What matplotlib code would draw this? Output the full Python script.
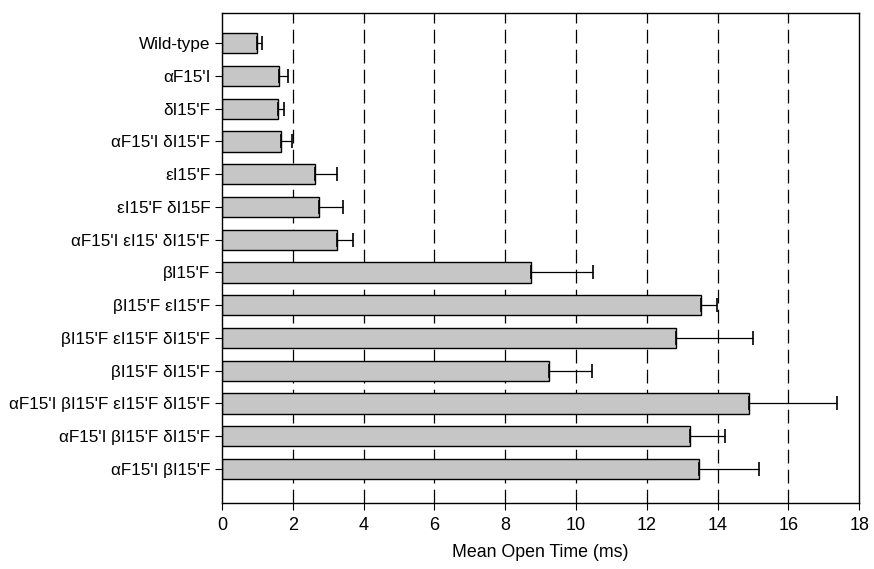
import numpy as np
import matplotlib
matplotlib.use("Agg")
import matplotlib.pyplot as plt

plt.rcParams['font.family'] = ['Liberation Sans', 'DejaVu Sans']

# data
labels = ["Wild-type", "αF15'I", "δI15'F", "αF15'I δI15'F", "εI15'F",
          "εI15'F δI15F", "αF15'I εI15' δI15'F", "βI15'F", "βI15'F εI15'F",
          "βI15'F εI15'F δI15'F", "βI15'F δI15'F",
          "αF15'I βI15'F εI15'F δI15'F", "αF15'I βI15'F δI15'F",
          "αF15'I βI15'F"]
means = [1.0, 1.61, 1.57, 1.66, 2.62, 2.73, 3.24, 8.73, 13.53, 12.82,
         9.24, 14.9, 13.23, 13.47]
err_top = [1.12, 1.86, 1.75, 1.99, 3.25, 3.43, 3.71, 10.49, 13.98, 15.0,
           10.46, 17.38, 14.2, 15.18]
xticks = [0, 2, 4, 6, 8, 10, 12, 14, 16, 18]

errs = np.array(err_top) - np.array(means)
ypos = np.arange(len(labels))

fig = plt.figure(figsize=(8.74, 5.69), dpi=100)
ax = fig.add_axes([0.254, 0.116, 0.729, 0.861])

# dashed grid behind bars
for x in xticks[1:-1]:
    ax.axvline(x, color='black', lw=0.9, ls=(0, (11, 5)), zorder=0)

ax.barh(ypos, means, height=0.62, color='#c6c6c6', edgecolor='black',
        linewidth=1.0, zorder=2)
ax.errorbar(means, ypos, xerr=[np.zeros(len(errs)), errs], fmt='none',
            ecolor='black', elinewidth=0.9, capsize=5, capthick=1.2, zorder=3)

ax.set_xlim(0, 18)
ax.set_ylim(14.04, -0.92)
ax.set_xticks(xticks)
ax.set_yticks(ypos)
ax.set_yticklabels(labels, fontsize=12.3)
ax.tick_params(axis='x', labelsize=13, length=5, direction='out', pad=5)
ax.tick_params(axis='y', length=5, direction='out')
ax.set_xlabel("Mean Open Time (ms)", fontsize=12.8, labelpad=7)
for s in ax.spines.values():
    s.set_linewidth(1.0)

fig.savefig("out.png", dpi=100)
